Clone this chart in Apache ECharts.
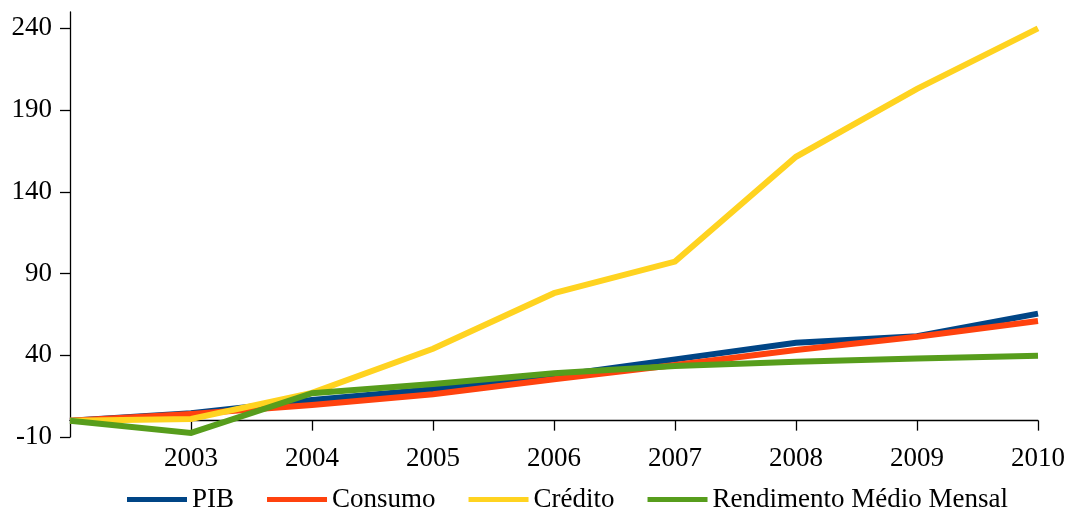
<!DOCTYPE html>
<html>
<head>
<meta charset="utf-8">
<script src="https://cdn.jsdelivr.net/npm/echarts@6/dist/echarts.min.js"></script>
<style>
  html, body { margin: 0; padding: 0; background: #ffffff; }
  #chart { width: 1072px; height: 508px; }
</style>
</head>
<body>
<div id="chart"></div>
<script>
// Years on the category axis (the first one is the base year, left unlabelled)
const years = ['2002', '2003', '2004', '2005', '2006', '2007', '2008', '2009', '2010'];

// Accumulated growth (%) since the base year
const pib        = [0, 4.5, 12.7, 19.2, 27.3, 37.5, 47.6, 51.7, 65.5];
const consumo    = [0, 4.0, 9.6, 16.2, 25.3, 34.0, 43.2, 51.3, 61.0];
const credito    = [0, 1.0, 17.0, 44.0, 78.0, 97.3, 161.4, 203.0, 240.0];
const rendimento = [0, -7.5, 16.8, 22.4, 29.0, 33.5, 36.0, 38.0, 39.7];

// Y axis tick values
const yTicks = [-10, 40, 90, 140, 190, 240];

const seriesNames = ['PIB', 'Consumo', 'Crédito', 'Rendimento Médio Mensal'];
const seriesColors = ['#004586', '#ff420e', '#ffd320', '#579d1c'];
const seriesData = [pib, consumo, credito, rendimento];

const font = '"Liberation Serif", "Times New Roman", serif';

const chart = echarts.init(document.getElementById('chart'), null, { renderer: 'canvas' });

chart.setOption({
  animation: false,
  backgroundColor: '#ffffff',
  color: seriesColors,
  textStyle: { fontFamily: font, color: '#000' },
  grid: { left: 70, right: 34, top: 12, bottom: 71, containLabel: false },
  legend: {
    left: 122,
    top: 481,
    itemWidth: 60,
    itemHeight: 5,
    itemGap: 33,
    icon: 'rect',
    textStyle: { fontFamily: font, fontSize: 27, color: '#000' },
    data: seriesNames
  },
  xAxis: {
    type: 'category',
    data: years,
    boundaryGap: false,
    axisLine: { onZero: true, lineStyle: { color: '#000', width: 1.3 } },
    axisTick: { show: true, length: 10, inside: false, lineStyle: { color: '#000', width: 1.3 } },
    axisLabel: {
      interval: (i) => i > 0,
      fontFamily: font,
      fontSize: 27,
      color: '#000',
      margin: 8
    },
    splitLine: { show: false }
  },
  yAxis: {
    type: 'value',
    min: -10,
    max: 250,
    axisLine: { show: true, lineStyle: { color: '#000', width: 1.3 } },
    axisTick: { show: true, length: 10, lineStyle: { color: '#000', width: 1.3 }, customValues: yTicks },
    axisLabel: {
      fontFamily: font,
      fontSize: 27,
      color: '#000',
      margin: 18,
      customValues: yTicks
    },
    splitLine: { show: false }
  },
  series: seriesNames.map((name, i) => ({
    name: name,
    type: 'line',
    data: seriesData[i],
    showSymbol: false,
    symbol: 'none',
    lineStyle: { width: 6, color: seriesColors[i], cap: 'butt', join: 'miter' },
    itemStyle: { color: seriesColors[i] },
    z: 2 + i
  }))
});
</script>
</body>
</html>
